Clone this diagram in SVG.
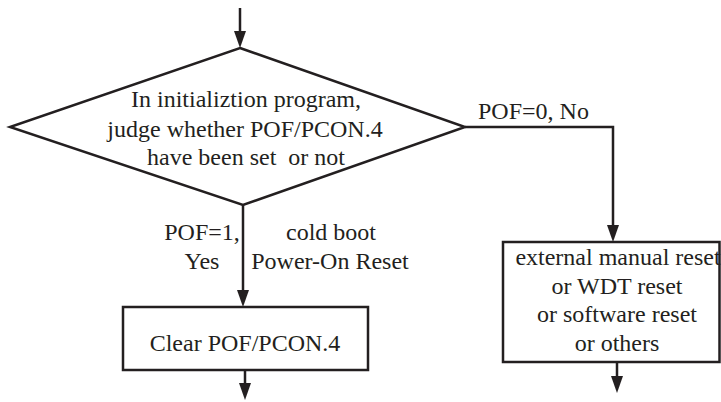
<svg xmlns="http://www.w3.org/2000/svg" width="721" height="402" viewBox="0 0 721 402">
<style>
.shape{fill:#fff;stroke:#231f20;stroke-width:2.5;stroke-linejoin:miter}
.conn{fill:none;stroke:#231f20;stroke-width:2.5}
text{font-family:"Liberation Serif","Times New Roman",serif;font-size:24px;fill:#231f20}
.c{text-anchor:middle}
</style>
<defs>
<marker id="arr" viewBox="0 0 17 12" refX="9" refY="6" markerWidth="17" markerHeight="12" markerUnits="userSpaceOnUse" orient="auto">
<path d="M0,0 L17,6 L0,12 z" fill="#231f20"/>
</marker>
</defs>
<rect width="721" height="402" fill="#fff"/>
<g id="connectors">
<path class="conn" d="M240,8 V40" marker-end="url(#arr)"/>
<path class="conn" d="M243,205 V299" marker-end="url(#arr)"/>
<path class="conn" d="M465,127 H613 V234" marker-end="url(#arr)"/>
<path class="conn" d="M617,362 V385" marker-end="url(#arr)"/>
<path class="conn" d="M245,370 V392" marker-end="url(#arr)"/>
</g>
<g id="decision">
<polygon class="shape" points="240,48 465,127 243,205 10,127"/>
<text class="c" x="246" y="107">In initializtion program,</text>
<text class="c" x="245" y="137">judge whether POF/PCON.4</text>
<text class="c" x="246" y="165" style="white-space:pre">have been set  or not</text>
</g>
<g id="label-no">
<text x="478" y="119">POF=0, No</text>
</g>
<g id="label-yes">
<text class="c" x="202" y="240">POF=1,</text>
<text class="c" x="202" y="269">Yes</text>
</g>
<g id="label-cold">
<text class="c" x="331" y="240">cold boot</text>
<text class="c" x="330" y="269">Power-On Reset</text>
</g>
<g id="clear-box">
<rect class="shape" x="123" y="307" width="245" height="63"/>
<text class="c" x="245" y="351">Clear POF/PCON.4</text>
</g>
<g id="other-box">
<rect class="shape" x="503" y="242" width="216.5" height="120"/>
<text class="c" x="618" y="265">external manual reset</text>
<text class="c" x="617" y="294">or WDT reset</text>
<text class="c" x="617" y="322">or software reset</text>
<text class="c" x="617" y="351">or others</text>
</g>
</svg>
